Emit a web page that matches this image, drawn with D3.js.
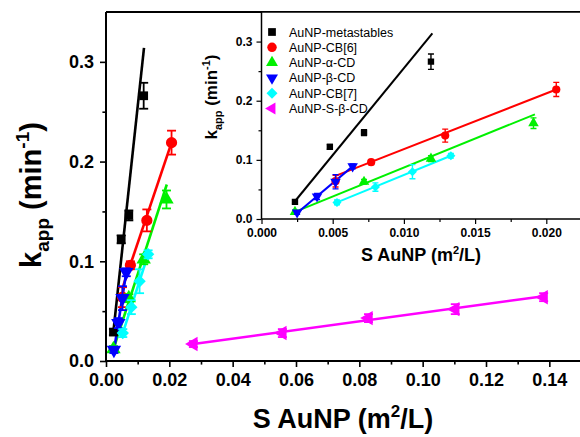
<!DOCTYPE html>
<html><head><meta charset="utf-8">
<script src="https://cdn.jsdelivr.net/npm/d3@7"></script>
<style>
body{margin:0;background:#fff;}
svg{display:block;font-family:Arial,"Liberation Sans",sans-serif;}
</style></head>
<body>
<svg id="c" width="580" height="437"></svg>
<script>
// ---------- data ----------
const seriesNames = ["AuNP-metastables","AuNP-CB[6]","AuNP-\u03b1-CD","AuNP-\u03b2-CD","AuNP-CB[7]","AuNP-S-\u03b2-CD"];
const seriesColors = ["#000000","#ff0000","#00f000","#0000ff","#00ffff","#ff00ff"];
const seriesSymbols = ["square","circle","triUp","triDown","diamond","triLeft"];

const metaX = [0.00235,0.0048,0.0072,0.0119];
const metaY = [0.029,0.122,0.146,0.266];
const metaErr = [0.003,0.004,0.005,0.013];
const cb6X = [0.0052,0.0077,0.0129,0.0207];
const cb6Y = [0.064,0.096,0.141,0.219];
const cb6Err = [0.010,0.004,0.011,0.012];
const aCdX = [0.00235,0.0072,0.0119,0.0191];
const aCdY = [0.012,0.063,0.102,0.162];
const aCdErr = [0.003,0.004,0.005,0.009];
const bCdX = [0.0025,0.0039,0.0052,0.0064];
const bCdY = [0.011,0.038,0.063,0.089];
const bCdErr = [0.003,0.005,0.012,0.004];
const cb7X = [0.0053,0.0080,0.0106,0.0133];
const cb7Y = [0.028,0.054,0.080,0.107];
const cb7Err = [0.004,0.007,0.012,0.004];
const sbCdX = [0.0276,0.0557,0.0829,0.1103,0.1382];
const sbCdY = [0.017,0.028,0.043,0.052,0.064];
const sbCdErr = [0.003,0.004,0.004,0.005,0.004];

// linear fit segments [x0, y0, x1, y1]
const metaFit = [0.00235,0.030,0.0120,0.314];
const cb6Fit = [0.0052,0.073,0.0207,0.219];
const aCdFit = [0.00235,0.012,0.0192,0.177];
const bCdFit = [0.0025,0.010,0.0064,0.089];
const cb7Fit = [0.0053,0.028,0.0133,0.107];
const sbCdFit = [0.0276,0.017,0.1382,0.065];

const mainXTicks = [0,0.02,0.04,0.06,0.08,0.10,0.12,0.14];
const mainXTickLabels = ["0.00","0.02","0.04","0.06","0.08","0.10","0.12","0.14"];
const mainYTicks = [0,0.1,0.2,0.3];
const mainYTickLabels = ["0.0","0.1","0.2","0.3"];
const insetXTicks = [0,0.005,0.010,0.015,0.020];
const insetXTickLabels = ["0.000","0.005","0.010","0.015","0.020"];
const insetYTicks = [0,0.1,0.2,0.3];
const insetYTickLabels = ["0.0","0.1","0.2","0.3"];

const allSeries = [
  {x:metaX,y:metaY,e:metaErr,fit:metaFit},
  {x:cb6X,y:cb6Y,e:cb6Err,fit:cb6Fit},
  {x:aCdX,y:aCdY,e:aCdErr,fit:aCdFit},
  {x:bCdX,y:bCdY,e:bCdErr,fit:bCdFit},
  {x:cb7X,y:cb7Y,e:cb7Err,fit:cb7Fit},
  {x:sbCdX,y:sbCdY,e:sbCdErr,fit:sbCdFit}
].map((s,i)=>Object.assign(s,{name:seriesNames[i],color:seriesColors[i],sym:seriesSymbols[i]}));

// ---------- drawing ----------
const svg = d3.select("#c");

function symbolPath(kind, size){
  const map = {square:d3.symbolSquare,circle:d3.symbolCircle,triUp:d3.symbolTriangle,
               triDown:d3.symbolTriangle,diamond:d3.symbolSquare,triLeft:d3.symbolTriangle};
  return d3.symbol().type(map[kind]).size(size)();
}
const symRot = {square:0,circle:0,triUp:0,triDown:180,diamond:45,triLeft:-90};

function drawPanel(g, cfg){
  const x = d3.scaleLinear().domain(cfg.xDomain).range(cfg.xRange);
  const y = d3.scaleLinear().domain(cfg.yDomain).range(cfg.yRange);
  if(cfg.bg){
    g.append("rect").attr("x",cfg.xRange[0]).attr("y",cfg.yRange[1])
      .attr("width",cfg.xRange[1]-cfg.xRange[0]).attr("height",cfg.yRange[0]-cfg.yRange[1])
      .attr("fill","#fff");
  }
  const clipId = "clip"+cfg.id;
  g.append("clipPath").attr("id",clipId).append("rect")
    .attr("x",cfg.xRange[0]).attr("y",cfg.yRange[1])
    .attr("width",cfg.xRange[1]-cfg.xRange[0]).attr("height",cfg.yRange[0]-cfg.yRange[1]);
  const plot = g.append("g").attr("clip-path",`url(#${clipId})`);

  cfg.series.forEach(s=>{
    const f = s.fit;
    if(f[0] > cfg.xDomain[1]) return;
    plot.append("line").attr("x1",x(f[0])).attr("y1",y(f[1])).attr("x2",x(f[2])).attr("y2",y(f[3]))
      .attr("stroke",s.color).attr("stroke-width",cfg.lw);
  });
  cfg.series.forEach(s=>{
    s.x.forEach((xv,i)=>{
      if(xv > cfg.xDomain[1]) return;
      const cx = x(xv), cy = y(s.y[i]);
      const e = s.e[i];
      const y1 = y(s.y[i]+e), y2 = y(s.y[i]-e);
      plot.append("line").attr("x1",cx).attr("x2",cx).attr("y1",y1).attr("y2",y2)
        .attr("stroke",s.color).attr("stroke-width",cfg.ebw);
      [y1,y2].forEach(yy=>plot.append("line").attr("x1",cx-cfg.cap).attr("x2",cx+cfg.cap)
        .attr("y1",yy).attr("y2",yy).attr("stroke",s.color).attr("stroke-width",cfg.ebw));
      plot.append("path").attr("d",symbolPath(s.sym, s.sym==="circle"?cfg.ms*1.1:(s.sym==="square"||s.sym==="diamond"?cfg.ms*0.85:cfg.ms)))
        .attr("transform",`translate(${cx},${cy}) rotate(${symRot[s.sym]})`)
        .attr("fill",s.color);
    });
  });

  // axes
  const ax = g.append("g").attr("transform",`translate(0,${cfg.yRange[0]})`)
    .call(d3.axisBottom(x).tickValues(cfg.xTicks).tickFormat((d,i)=>cfg.xTickLabels[i])
      .tickSize(cfg.tick).tickPadding(cfg.xPad));
  const axMinor = g.append("g").attr("transform",`translate(0,${cfg.yRange[0]})`)
    .call(d3.axisBottom(x).tickValues(cfg.xMinor).tickFormat("").tickSize(cfg.tick*0.6));
  const ay = g.append("g").attr("transform",`translate(${cfg.xRange[0]},0)`)
    .call(d3.axisLeft(y).tickValues(cfg.yTicks).tickFormat((d,i)=>cfg.yTickLabels[i])
      .tickSize(cfg.tick).tickPadding(cfg.yPad));
  const ayMinor = g.append("g").attr("transform",`translate(${cfg.xRange[0]},0)`)
    .call(d3.axisLeft(y).tickValues(cfg.yMinor).tickFormat("").tickSize(cfg.tick*0.6));
  [ax,axMinor,ay,ayMinor].forEach(a=>{
    a.select(".domain").attr("stroke","#000").attr("stroke-width",cfg.aw);
    a.selectAll(".tick line").attr("stroke","#000").attr("stroke-width",cfg.aw*0.8);
    a.selectAll("text").attr("font-size",cfg.tfs).attr("font-weight","bold").attr("fill","#000")
      .attr("font-family","Arial, 'Liberation Sans', sans-serif");
  });
  ax.select(".domain").attr("d",`M${cfg.xRange[0]},0H${cfg.xRange[1]}`);
  axMinor.select(".domain").remove();
  ay.select(".domain").attr("d",`M0,${cfg.yRange[0]}V${cfg.yRange[1]}`);
  ayMinor.select(".domain").remove();
  // top border
  g.append("line").attr("x1",cfg.xRange[0]).attr("x2",cfg.xRange[1])
    .attr("y1",cfg.yRange[1]).attr("y2",cfg.yRange[1]).attr("stroke","#000").attr("stroke-width",cfg.aw);
  return {x,y};
}

// main panel
const mainG = svg.append("g");
drawPanel(mainG,{
  id:"main", xDomain:[0,0.15], xRange:[106,581], yDomain:[0,0.35], yRange:[361,12],
  series:allSeries, lw:2.6, ebw:1.8, cap:4.5, ms:90,
  xTicks:mainXTicks, xTickLabels:mainXTickLabels, xMinor:[0.01,0.03,0.05,0.07,0.09,0.11,0.13],
  yTicks:mainYTicks, yTickLabels:mainYTickLabels, yMinor:[0.05,0.15,0.25],
  tick:6, xPad:6, yPad:6, aw:2, tfs:18
});
// main axis titles
const mainXT = svg.append("text").attr("x",343).attr("y",428).attr("text-anchor","middle")
  .attr("font-size",27).attr("font-weight","bold");
mainXT.append("tspan").text("S AuNP (m");
mainXT.append("tspan").attr("font-size",17).attr("dy",-11).text("2");
mainXT.append("tspan").attr("dy",11).text("/L)");

const mainYT = svg.append("text").attr("transform","translate(41,195) rotate(-90)").attr("text-anchor","middle")
  .attr("font-size",29).attr("font-weight","bold");
mainYT.append("tspan").text("k");
mainYT.append("tspan").attr("font-size",19).attr("dy",8).text("app");
mainYT.append("tspan").attr("dy",-8).text(" (min");
mainYT.append("tspan").attr("font-size",19).attr("dy",-12).text("-1");
mainYT.append("tspan").attr("dy",12).text(")");

// inset panel
const insetG = svg.append("g");
drawPanel(insetG,{
  id:"inset", bg:true, xDomain:[0,0.0225], xRange:[261.5,581.9], yDomain:[0,0.35], yRange:[219,12],
  series:allSeries, lw:2, ebw:1.4, cap:3, ms:48,
  xTicks:insetXTicks, xTickLabels:insetXTickLabels, xMinor:[0.0025,0.0075,0.0125,0.0175],
  yTicks:insetYTicks, yTickLabels:insetYTickLabels, yMinor:[0.05,0.15,0.25],
  tick:5, xPad:4, yPad:4, aw:1.5, tfs:12
});
const inXT = svg.append("text").attr("x",421).attr("y",261).attr("text-anchor","middle")
  .attr("font-size",18).attr("font-weight","bold");
inXT.append("tspan").text("S AuNP (m");
inXT.append("tspan").attr("font-size",11).attr("dy",-7).text("2");
inXT.append("tspan").attr("dy",7).text("/L)");

const inYT = svg.append("text").attr("transform","translate(217,97) rotate(-90)").attr("text-anchor","middle")
  .attr("font-size",17).attr("font-weight","bold");
inYT.append("tspan").text("k");
inYT.append("tspan").attr("font-size",11).attr("dy",5).text("app");
inYT.append("tspan").attr("dy",-5).text(" (min");
inYT.append("tspan").attr("font-size",11).attr("dy",-7).text("-1");
inYT.append("tspan").attr("dy",7).text(")");

// legend
const leg = svg.append("g");
allSeries.forEach((s,i)=>{
  const yy = 32 + i*15.3;
  leg.append("path").attr("d",symbolPath(s.sym, s.sym==="circle"?70:(s.sym==="square"||s.sym==="diamond"?60:62)))
    .attr("transform",`translate(272,${yy}) rotate(${symRot[s.sym]})`).attr("fill",s.color);
  leg.append("text").attr("x",289).attr("y",yy+4.5).attr("font-size",12.5).text(s.name);
});
</script>
</body></html>
